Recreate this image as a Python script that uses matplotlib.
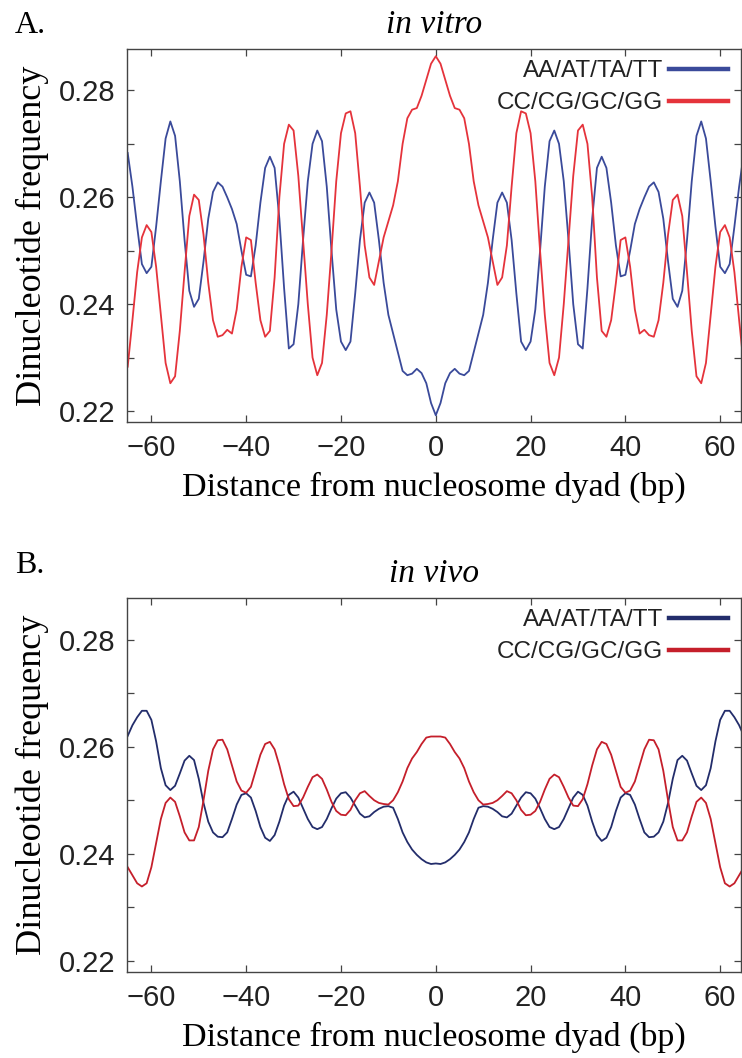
import numpy as np
import matplotlib
matplotlib.use("Agg")
import matplotlib.pyplot as plt
from matplotlib.lines import Line2D
from matplotlib.ticker import MultipleLocator

# Distance from dyad (bp)
positions = list(range(-65, 66))

# in vitro
vitro_at = [
    0.2683, 0.2620, 0.2545, 0.2475, 0.2458, 0.2470, 0.2545, 0.2630, 0.2710, 0.2742,
    0.2715, 0.2630, 0.2520, 0.2425, 0.2395, 0.2410, 0.2480, 0.2560, 0.2610, 0.2628,
    0.2620, 0.2600, 0.2578, 0.2550, 0.2500, 0.2455, 0.2452, 0.2510, 0.2590, 0.2655,
    0.2676, 0.2655, 0.2560, 0.2430, 0.2317, 0.2325, 0.2400, 0.2520, 0.2630, 0.2700,
    0.2725, 0.2705, 0.2620, 0.2500, 0.2390, 0.2330, 0.2314, 0.2330, 0.2420, 0.2520,
    0.2590, 0.2609, 0.2590, 0.2520, 0.2440, 0.2380, 0.2345, 0.2310, 0.2275, 0.2267,
    0.2270, 0.2279, 0.2271, 0.2252, 0.2215, 0.2192,
    0.2215, 0.2252, 0.2271, 0.2279, 0.2270,
    0.2267, 0.2275, 0.2310, 0.2345, 0.2380, 0.2440, 0.2520, 0.2590, 0.2609, 0.2590,
    0.2520, 0.2420, 0.2330, 0.2314, 0.2330, 0.2390, 0.2500, 0.2620, 0.2705, 0.2725,
    0.2700, 0.2630, 0.2520, 0.2400, 0.2325, 0.2317, 0.2430, 0.2560, 0.2655, 0.2676,
    0.2655, 0.2590, 0.2510, 0.2452, 0.2455, 0.2500, 0.2550, 0.2578, 0.2600, 0.2620,
    0.2628, 0.2610, 0.2560, 0.2480, 0.2410, 0.2395, 0.2425, 0.2520, 0.2630, 0.2715,
    0.2742, 0.2710, 0.2630, 0.2545, 0.2470, 0.2458, 0.2475, 0.2545, 0.2620, 0.2683,
]
vitro_gc = [
    0.2283, 0.2370, 0.2460, 0.2525, 0.2548, 0.2535, 0.2470, 0.2380, 0.2290, 0.2252,
    0.2265, 0.2350, 0.2460, 0.2565, 0.2605, 0.2595, 0.2530, 0.2440, 0.2370, 0.2339,
    0.2342, 0.2352, 0.2345, 0.2390, 0.2470, 0.2525, 0.2520, 0.2440, 0.2370, 0.2339,
    0.2350, 0.2450, 0.2600, 0.2700, 0.2736, 0.2725, 0.2640, 0.2520, 0.2400, 0.2300,
    0.2267, 0.2290, 0.2380, 0.2500, 0.2630, 0.2720, 0.2757, 0.2761, 0.2720, 0.2620,
    0.2510, 0.2450, 0.2436, 0.2480, 0.2525, 0.2555, 0.2585, 0.2630, 0.2700, 0.2748,
    0.2764, 0.2767, 0.2790, 0.2820, 0.2850, 0.2864,
    0.2850, 0.2820, 0.2790, 0.2767, 0.2764,
    0.2748, 0.2700, 0.2630, 0.2585, 0.2555, 0.2525, 0.2480, 0.2436, 0.2450, 0.2510,
    0.2620, 0.2720, 0.2761, 0.2757, 0.2720, 0.2630, 0.2500, 0.2380, 0.2290, 0.2267,
    0.2300, 0.2400, 0.2520, 0.2640, 0.2725, 0.2736, 0.2700, 0.2600, 0.2450, 0.2350,
    0.2339, 0.2370, 0.2440, 0.2520, 0.2525, 0.2470, 0.2390, 0.2345, 0.2352, 0.2342,
    0.2339, 0.2370, 0.2440, 0.2530, 0.2595, 0.2605, 0.2565, 0.2460, 0.2350, 0.2265,
    0.2252, 0.2290, 0.2380, 0.2470, 0.2535, 0.2548, 0.2525, 0.2460, 0.2370, 0.2283,
]

# in vivo
vivo_at = [
    0.2620, 0.2640, 0.2655, 0.2667, 0.2667, 0.2650, 0.2610, 0.2560, 0.2528, 0.2519,
    0.2527, 0.2550, 0.2574, 0.2583, 0.2575, 0.2540, 0.2495, 0.2460, 0.2440, 0.2432,
    0.2431, 0.2440, 0.2465, 0.2492, 0.2510, 0.2513, 0.2505, 0.2480, 0.2450, 0.2430,
    0.2424, 0.2435, 0.2460, 0.2490, 0.2510, 0.2516, 0.2505, 0.2485, 0.2465, 0.2450,
    0.2446, 0.2450, 0.2465, 0.2485, 0.2503, 0.2513, 0.2515, 0.2505, 0.2490, 0.2475,
    0.2468, 0.2470, 0.2478, 0.2484, 0.2488, 0.2489, 0.2486, 0.2465, 0.2440, 0.2422,
    0.2408, 0.2398, 0.2390, 0.2384, 0.2381, 0.2382,
    0.2381, 0.2384, 0.2390, 0.2398, 0.2408,
    0.2422, 0.2440, 0.2465, 0.2486, 0.2489, 0.2488, 0.2484, 0.2478, 0.2470, 0.2468,
    0.2475, 0.2490, 0.2505, 0.2515, 0.2513, 0.2503, 0.2485, 0.2465, 0.2450, 0.2446,
    0.2450, 0.2465, 0.2485, 0.2505, 0.2516, 0.2510, 0.2490, 0.2460, 0.2435, 0.2424,
    0.2430, 0.2450, 0.2480, 0.2505, 0.2513, 0.2510, 0.2492, 0.2465, 0.2440, 0.2431,
    0.2432, 0.2440, 0.2460, 0.2495, 0.2540, 0.2575, 0.2583, 0.2574, 0.2550, 0.2527,
    0.2519, 0.2528, 0.2560, 0.2610, 0.2650, 0.2667, 0.2667, 0.2655, 0.2640, 0.2620,
]
vivo_gc = [
    0.2375, 0.2360, 0.2345, 0.2339, 0.2345, 0.2375, 0.2420, 0.2465, 0.2495, 0.2505,
    0.2497, 0.2470, 0.2440, 0.2425, 0.2425, 0.2450, 0.2500, 0.2555, 0.2595, 0.2612,
    0.2613, 0.2595, 0.2565, 0.2535, 0.2518, 0.2514, 0.2525, 0.2555, 0.2585, 0.2605,
    0.2609, 0.2595, 0.2565, 0.2530, 0.2502, 0.2489, 0.2490, 0.2505, 0.2525, 0.2543,
    0.2548, 0.2540, 0.2520, 0.2497, 0.2480, 0.2473, 0.2472, 0.2482, 0.2500, 0.2513,
    0.2517, 0.2508, 0.2500, 0.2495, 0.2493, 0.2492, 0.2500, 0.2515, 0.2535, 0.2560,
    0.2578, 0.2590, 0.2605, 0.2617, 0.2619, 0.2619,
    0.2619, 0.2617, 0.2605, 0.2590, 0.2578,
    0.2560, 0.2535, 0.2515, 0.2500, 0.2492, 0.2493, 0.2495, 0.2500, 0.2508, 0.2517,
    0.2513, 0.2500, 0.2482, 0.2472, 0.2473, 0.2480, 0.2497, 0.2520, 0.2540, 0.2548,
    0.2543, 0.2525, 0.2505, 0.2490, 0.2489, 0.2502, 0.2530, 0.2565, 0.2595, 0.2609,
    0.2605, 0.2585, 0.2555, 0.2525, 0.2514, 0.2518, 0.2535, 0.2565, 0.2595, 0.2613,
    0.2612, 0.2595, 0.2555, 0.2500, 0.2450, 0.2425, 0.2425, 0.2440, 0.2470, 0.2497,
    0.2505, 0.2495, 0.2465, 0.2420, 0.2375, 0.2345, 0.2339, 0.2345, 0.2360, 0.2375,
]

series_labels = ["AA/AT/TA/TT", "CC/CG/GC/GG"]
x_ticks = [-60, -40, -20, 0, 20, 40, 60]
y_ticks = [0.22, 0.24, 0.26, 0.28]

SERIF = ["Liberation Serif", "DejaVu Serif"]
SANS = ["Liberation Sans", "DejaVu Sans"]


def draw_panel(fig, rect, at, gc, colors, letter, title, letter_y):
    ax = fig.add_axes(rect)
    ax.plot(positions, at, color=colors[0], lw=1.3)
    ax.plot(positions, gc, color=colors[1], lw=1.3)
    ax.set_xlim(-65.2, 64.4)
    ax.set_ylim(0.218, 0.2877)

    ax.set_xticks(x_ticks)
    ax.set_xticklabels([f"{t}".replace("-", "\u2212") for t in x_ticks])
    ax.set_yticks(y_ticks)
    ax.set_yticklabels([f"{t:.2f}" for t in y_ticks])
    ax.yaxis.set_minor_locator(MultipleLocator(0.01))
    ax.tick_params(which="both", direction="in", top=True, right=True,
                   color="#444444", width=0.9, length=5)
    ax.tick_params(axis="x", pad=9)
    ax.tick_params(axis="y", pad=8)
    for lab in ax.get_xticklabels() + ax.get_yticklabels():
        lab.set_family(SANS)
        lab.set_fontsize(21)
        lab.set_color("#222222")
    for s in ax.spines.values():
        s.set_color("#444444")
        s.set_linewidth(1.0)

    ax.set_xlabel("Distance from nucleosome dyad (bp)", family=SERIF,
                  fontsize=24.5, labelpad=7)
    ax.set_ylabel("Dinucleotide frequency", family=SERIF, fontsize=26)
    ax.yaxis.set_label_coords(-0.127, 0.5)
    ax.set_title(title, family=SERIF, style="italic", fontsize=24, pad=12)

    fig.text(15 / 742, letter_y, letter, family=SERIF, fontsize=23)

    handles = [Line2D([], [], color=colors[0], lw=3.2),
               Line2D([], [], color=colors[1], lw=3.2)]
    leg = ax.legend(handles, series_labels, loc="upper right",
                    bbox_to_anchor=(0.998, 1.003), frameon=False,
                    markerfirst=False, handlelength=2.4, handletextpad=0.25,
                    labelspacing=0.4, borderpad=0.0,
                    prop={"family": SANS, "size": 17.5})
    for t in leg.get_texts():
        t.set_color("#222222")
    return ax


fig = plt.figure(figsize=(7.42, 10.58), dpi=100)

draw_panel(fig, [0.1708, 0.6014, 0.8279, 0.3520], vitro_at, vitro_gc,
           ["#3a4a9a", "#e5333b"], "A.", "in vitro", 1 - 33 / 1058)
draw_panel(fig, [0.1708, 0.0816, 0.8279, 0.3529], vivo_at, vivo_gc,
           ["#232d6b", "#c51f2b"], "B.", "in vivo", 1 - 573 / 1058)

fig.savefig("out.png", dpi=100)
